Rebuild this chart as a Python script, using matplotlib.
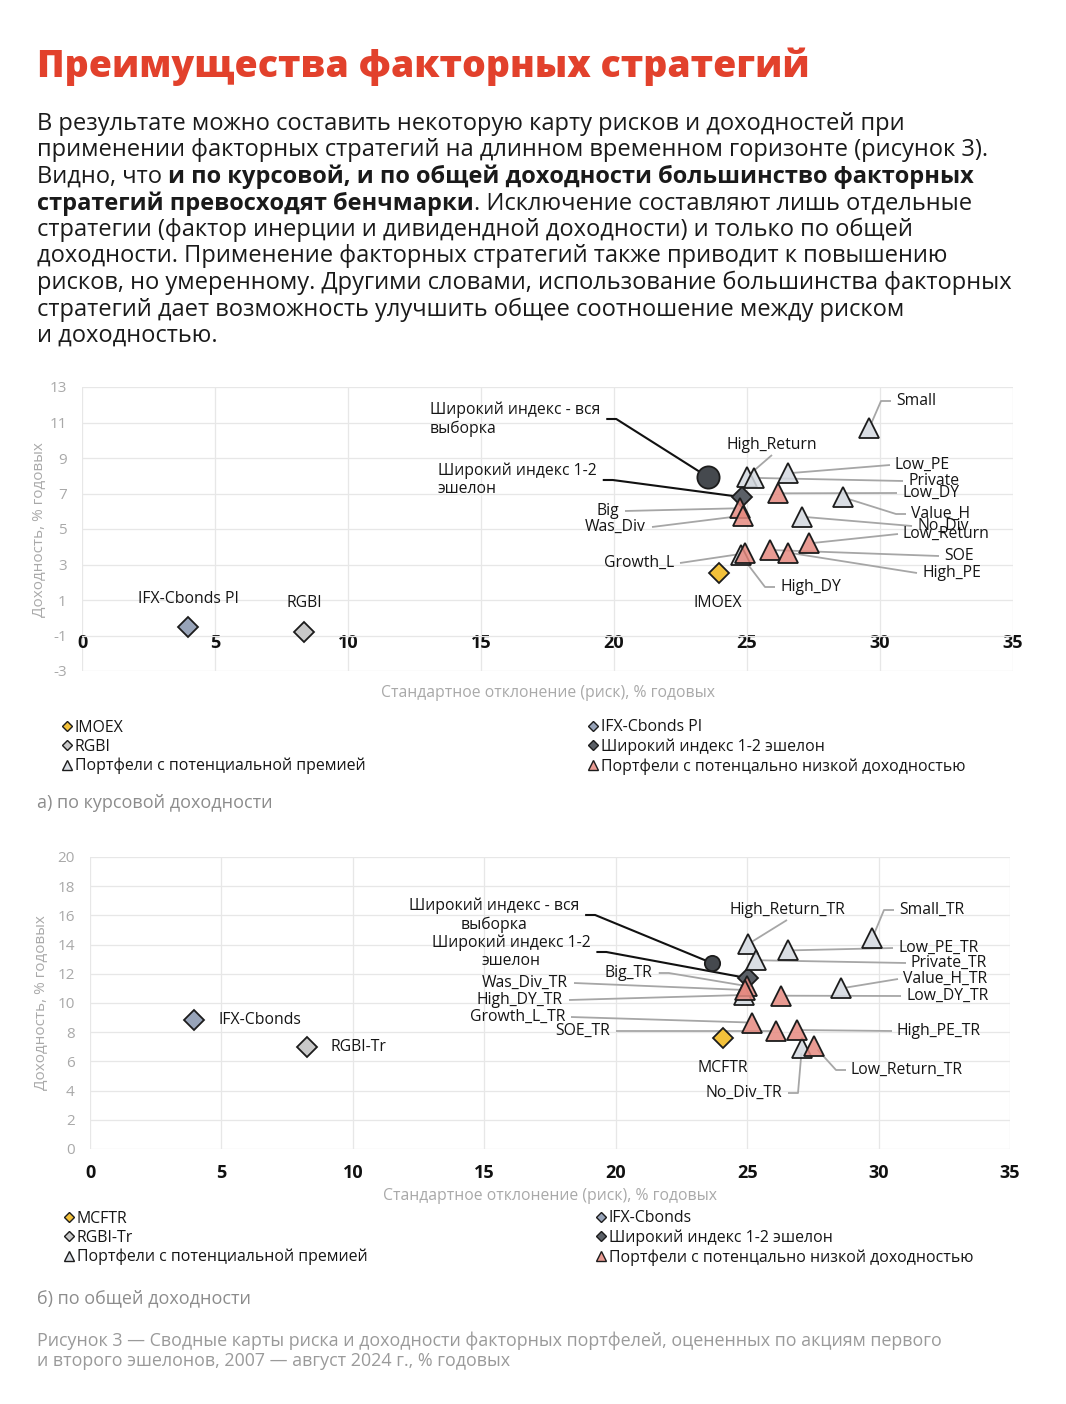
import matplotlib
matplotlib.use('Agg')
import matplotlib.pyplot as plt
from matplotlib.lines import Line2D

W, H = 1066, 1404
plt.rcParams['font.family'] = ['Open Sans', 'DejaVu Sans']
plt.rcParams['axes.unicode_minus'] = False

# ---------------- data: chart a (price return) ----------------
prem_a_names = ['Small', 'High_Return', 'Private', 'Low_PE', 'Value_H', 'No_Div', 'High_DY']
prem_a_x = [29.59, 25.00, 25.27, 26.55, 28.60, 27.08, 24.76]
prem_a_y = [10.67, 7.95, 7.88, 8.14, 6.79, 5.69, 3.54]
low_a_names = ['Low_DY', 'Big', 'Was_Div', 'Growth_L', 'Low_Return', 'SOE', 'High_PE']
low_a_x = [26.15, 24.74, 24.84, 24.92, 27.34, 25.86, 26.55]
low_a_y = [7.01, 6.17, 5.75, 3.63, 4.19, 3.82, 3.67]
bench_a_names = ['IMOEX', 'IFX-Cbonds PI', 'RGBI', 'Широкий индекс 1-2 эшелон', 'Широкий индекс - вся выборка']
bench_a_x = [23.93, 3.98, 8.35, 24.83, 23.55]
bench_a_y = [2.50, -0.52, -0.80, 6.79, 7.91]

# ---------------- data: chart b (total return) ----------------
prem_b_names = ['Small_TR', 'High_Return_TR', 'Private_TR', 'Low_PE_TR', 'Value_H_TR', 'No_Div_TR', 'High_DY_TR']
prem_b_x = [29.76, 25.05, 25.34, 26.55, 28.57, 27.08, 24.88]
prem_b_y = [14.43, 14.05, 12.93, 13.60, 11.00, 6.90, 10.55]
low_b_names = ['Low_DY_TR', 'Big_TR', 'Was_Div_TR', 'Growth_L_TR', 'SOE_TR', 'High_PE_TR', 'Low_Return_TR']
low_b_x = [26.27, 24.98, 24.91, 25.17, 26.10, 26.88, 27.55]
low_b_y = [10.50, 11.16, 10.89, 8.66, 8.08, 8.15, 7.06]
bench_b_names = ['MCFTR', 'IFX-Cbonds', 'RGBI-Tr', 'Широкий индекс 1-2 эшелон', 'Широкий индекс - вся выборка']
bench_b_x = [24.09, 3.96, 8.25, 25.02, 23.68]
bench_b_y = [7.58, 8.84, 6.99, 11.70, 12.72]

x_ticks = [0, 5, 10, 15, 20, 25, 30, 35]
y_ticks_a = [-3, -1, 1, 3, 5, 7, 9, 11, 13]
y_ticks_b = [0, 2, 4, 6, 8, 10, 12, 14, 16, 18, 20]

legend_a = ['IMOEX', 'RGBI', 'Портфели с потенциальной премией',
            'IFX-Cbonds PI', 'Широкий индекс 1-2 эшелон', 'Портфели с потенцально низкой доходностью']
legend_b = ['MCFTR', 'RGBI-Tr', 'Портфели с потенциальной премией',
            'IFX-Cbonds', 'Широкий индекс 1-2 эшелон', 'Портфели с потенцально низкой доходностью']

# label layout: name -> (text, px_x, px_y, ha, leader colour, side the leader leaves from, stub?)
lab_a = {
    'Широкий индекс - вся выборка': ('Широкий индекс - вся\nвыборка', 430, 419, 'left', 'black', 'R', True),
    'Широкий индекс 1-2 эшелон': ('Широкий индекс 1-2\nэшелон', 438, 480, 'left', 'black', 'R', True),
    'High_Return': ('High_Return', 772, 445, 'center', 'gray', 'B', False),
    'Small': ('Small', 896, 401, 'left', 'gray', 'L', True),
    'Low_PE': ('Low_PE', 895, 465, 'left', 'gray', 'L', False),
    'Private': ('Private', 908, 481, 'left', 'gray', 'L', False),
    'Low_DY': ('Low_DY', 902, 493, 'left', 'gray', 'L', False),
    'Value_H': ('Value_H', 911, 514, 'left', 'gray', 'L', True),
    'No_Div': ('No_Div', 917, 526, 'left', 'gray', 'L', False),
    'Low_Return': ('Low_Return', 903, 534, 'left', 'gray', 'L', False),
    'SOE': ('SOE', 944, 556, 'left', 'gray', 'L', False),
    'High_PE': ('High_PE', 922, 573, 'left', 'gray', 'L', False),
    'High_DY': ('High_DY', 780, 587, 'left', 'gray', 'L', True),
    'Growth_L': ('Growth_L', 674, 563, 'right', 'gray', 'R', False),
    'Big': ('Big', 619, 511, 'right', 'gray', 'R', False),
    'Was_Div': ('Was_Div', 646, 527, 'right', 'gray', 'R', False),
    'IFX-Cbonds PI': ('IFX-Cbonds PI', 188, 599, 'center', None, None, False),
    'RGBI': ('RGBI', 304, 603, 'center', None, None, False),
    'IMOEX': ('IMOEX', 718, 603, 'center', None, None, False),
}
lab_b = {
    'Широкий индекс - вся выборка': ('Широкий индекс - вся\nвыборка', 494, 915, 'center', 'black', 'R', True),
    'Широкий индекс 1-2 эшелон': ('Широкий индекс 1-2\nэшелон', 511, 952, 'center', 'black', 'R', True),
    'Big_TR': ('Big_TR', 605, 973, 'left', 'gray', 'R', True),
    'Was_Div_TR': ('Was_Div_TR', 568, 983, 'right', 'gray', 'R', False),
    'High_DY_TR': ('High_DY_TR', 563, 1000, 'right', 'gray', 'R', False),
    'Growth_L_TR': ('Growth_L_TR', 565, 1017, 'right', 'gray', 'R', False),
    'SOE_TR': ('SOE_TR', 610, 1031, 'right', 'gray', 'R', False),
    'IFX-Cbonds': ('IFX-Cbonds', 218, 1020, 'left', None, None, False),
    'RGBI-Tr': ('RGBI-Tr', 330, 1047, 'left', None, None, False),
    'MCFTR': ('MCFTR', 723, 1068, 'center', None, None, False),
    'No_Div_TR': ('No_Div_TR', 782, 1093, 'right', 'gray', 'R', True),
    'Low_Return_TR': ('Low_Return_TR', 851, 1070, 'left', 'gray', 'L', True),
    'High_PE_TR': ('High_PE_TR', 897, 1031, 'left', 'gray', 'L', False),
    'Low_DY_TR': ('Low_DY_TR', 906, 996, 'left', 'gray', 'L', False),
    'Value_H_TR': ('Value_H_TR', 903, 979, 'left', 'gray', 'L', False),
    'Private_TR': ('Private_TR', 911, 963, 'left', 'gray', 'L', False),
    'Low_PE_TR': ('Low_PE_TR', 898, 948, 'left', 'gray', 'L', False),
    'Small_TR': ('Small_TR', 899, 910, 'left', 'gray', 'L', True),
    'High_Return_TR': ('High_Return_TR', 787, 910, 'center', 'gray', 'B', False),
}

# ---------------- styles ----------------
EDGE = '#1c1c1c'
C_PREM = (0.83, 0.85, 0.88, 0.85)
C_LOW = (0.90, 0.54, 0.50, 0.85)
C_YEL = '#f3c13a'
C_IFX = '#98a4b9'
C_RGBI = '#c9c9c9'
C_DARK = '#5b6067'
C_CIRC = '#45494e'
GRAYTXT = '#a9a9a9'
LBL = 11.3


def fx(px):
    return px / W


def fy(py):
    return 1 - py / H


fig = plt.figure(figsize=(W / 100, H / 100), dpi=100)
fig.patch.set_facecolor('white')
renderer = fig.canvas.get_renderer()


def draw_chart(ax, bench_x, bench_y, bench_names, prem_x, prem_y, prem_names,
               low_x, low_y, low_names, labels, ylim, yticks, circ_ms, xaxis_at=None, xpad=11):
    ax.set_xlim(0, 35)
    ax.set_ylim(*ylim)
    for s in ax.spines.values():
        s.set_visible(False)
    if xaxis_at is not None:
        ax.spines['bottom'].set_position(('data', xaxis_at))
    ax.set_xticks(x_ticks, labels=[str(v) for v in x_ticks], fontweight='bold')
    ax.set_yticks(yticks)
    ax.grid(True, color='#e7e7e7', lw=0.9)
    ax.set_axisbelow(True)
    ax.tick_params(length=0)
    ax.tick_params(axis='y', labelcolor=GRAYTXT, labelsize=11, pad=11)
    ax.tick_params(axis='x', labelcolor='#111111', labelsize=13, pad=xpad)

    styles = [('D', 10.5, C_YEL), ('D', 10.5, C_IFX), ('D', 10.5, C_RGBI),
              ('D', 10.5, C_DARK), ('o', circ_ms, C_CIRC)]
    for i, (m, ms, c) in enumerate(styles):
        ax.plot([bench_x[i]], [bench_y[i]], ls='none', marker=m, ms=ms, mfc=c,
                mec=EDGE, mew=1.3, zorder=5)
    ax.plot(prem_x, prem_y, ls='none', marker='^', ms=15, mfc=C_PREM, mec=EDGE,
            mew=1.3, zorder=6)
    ax.plot(low_x, low_y, ls='none', marker='^', ms=15, mfc=C_LOW, mec=EDGE,
            mew=1.3, zorder=7)

    allpts = {}
    for n, x, y in zip(bench_names, bench_x, bench_y):
        allpts[n] = (x, y)
    for n, x, y in zip(prem_names, prem_x, prem_y):
        allpts[n] = (x, y)
    for n, x, y in zip(low_names, low_x, low_y):
        allpts[n] = (x, y)

    inv = ax.transData.inverted()
    for name, (txt, px, py, ha, leader, side, stub) in labels.items():
        t = fig.text(fx(px), fy(py), txt, ha=ha, va='center', fontsize=LBL,
                     color='#151515', multialignment=ha, zorder=4)
        if leader is None:
            continue
        bb = t.get_window_extent(renderer)
        ymid = (bb.y0 + bb.y1) / 2
        if side == 'L':
            pts = [(bb.x0 - 5, ymid)]
            if stub:
                pts.append((bb.x0 - 15, ymid))
        elif side == 'R':
            pts = [(bb.x1 + 6, ymid)]
            if stub:
                pts.append((bb.x1 + 16, ymid))
        else:
            pts = [((bb.x0 + bb.x1) / 2, bb.y0 - 2)]
        # end point: the mark, shortened a little so it stops at the marker edge
        ex, ey = ax.transData.transform(allpts[name])
        lx, ly = pts[-1]
        dx, dy = ex - lx, ey - ly
        dd = (dx * dx + dy * dy) ** 0.5
        pts.append((ex - 5 * dx / dd, ey - 5 * dy / dd))
        dpts = inv.transform(pts)
        col = '#111111' if leader == 'black' else '#a6a6a6'
        ax.plot(dpts[:, 0], dpts[:, 1], color=col, lw=1.5 if leader == 'black' else 1.3,
                zorder=4, clip_on=False, solid_capstyle='butt')


# ---------------- chart a ----------------
ax1 = fig.add_axes([fx(82), fy(671), (1013 - 82) / W, (671 - 387) / H])
draw_chart(ax1, bench_a_x, bench_a_y, bench_a_names, prem_a_x, prem_a_y, prem_a_names,
           low_a_x, low_a_y, low_a_names, lab_a, (-3, 13), y_ticks_a, 16, xaxis_at=-1, xpad=-1)

# ---------------- chart b ----------------
ax2 = fig.add_axes([fx(90), fy(1149), (1010 - 90) / W, (1149 - 857) / H])
draw_chart(ax2, bench_b_x, bench_b_y, bench_b_names, prem_b_x, prem_b_y, prem_b_names,
           low_b_x, low_b_y, low_b_names, lab_b, (0, 20), y_ticks_b, 11, xpad=11)

# axis titles
fig.text(fx(548), fy(693), 'Стандартное отклонение (риск), % годовых', ha='center', va='center',
         fontsize=11.3, color=GRAYTXT)
fig.text(fx(550), fy(1196), 'Стандартное отклонение (риск), % годовых', ha='center', va='center',
         fontsize=11.3, color=GRAYTXT)
fig.text(fx(40), fy(530), 'Доходность, % годовых', ha='center', va='center', rotation=90,
         fontsize=11, color=GRAYTXT)
fig.text(fx(42), fy(1003), 'Доходность, % годовых', ha='center', va='center', rotation=90,
         fontsize=11, color=GRAYTXT)


# ---------------- legends ----------------
def legend_handles():
    return [Line2D([], [], ls='none', marker='D', ms=5, mfc=C_YEL, mec=EDGE, mew=1.0),
            Line2D([], [], ls='none', marker='D', ms=5, mfc=C_RGBI, mec=EDGE, mew=1.0),
            Line2D([], [], ls='none', marker='^', ms=7, mfc=C_PREM, mec=EDGE, mew=1.0),
            Line2D([], [], ls='none', marker='D', ms=5, mfc=C_IFX, mec=EDGE, mew=1.0),
            Line2D([], [], ls='none', marker='D', ms=5, mfc=C_DARK, mec=EDGE, mew=1.0),
            Line2D([], [], ls='none', marker='^', ms=7, mfc=C_LOW, mec=EDGE, mew=1.0)]


def add_legend(labels, x_left, x_right, y_mid):
    h = legend_handles()
    for hs, ls, xx in ((h[:3], labels[:3], x_left), (h[3:], labels[3:], x_right)):
        fig.legend(hs, ls, loc='center left', bbox_to_anchor=(fx(xx), fy(y_mid)),
                   frameon=False, fontsize=11.4, handlelength=0.6, handletextpad=0.2,
                   labelspacing=0.2, borderpad=0, borderaxespad=0, labelcolor='#151515')


add_legend(legend_a, 62, 588, 747)
add_legend(legend_b, 64, 596, 1238)

fig.text(fx(37), fy(803), 'а) по курсовой доходности', ha='left', va='center', fontsize=13,
         color='#8c8c8c')
fig.text(fx(37), fy(1298), 'б) по общей доходности', ha='left', va='center', fontsize=13,
         color='#8c8c8c')
fig.text(fx(37), fy(1341), 'Рисунок 3 — Сводные карты риска и доходности факторных портфелей, '
         'оцененных по акциям первого', ha='left', va='center', fontsize=12.9, color='#9a9a9a')
fig.text(fx(37), fy(1361), 'и второго эшелонов, 2007 — август 2024 г., % годовых', ha='left',
         va='center', fontsize=12.9, color='#9a9a9a')

# ---------------- title & body text ----------------
t = fig.text(fx(37), fy(67), 'Преимущества факторных стратегий', ha='left', va='center',
             fontsize=30, fontweight='extra bold', color='#e2412c')
w = t.get_window_extent(renderer).width
t.set_fontsize(30 * (808 - 37) / w)

probe = fig.text(0, 0, 'применении факторных стратегий на длинном временном горизонте (рисунок 3).',
                 fontsize=16)
pw = probe.get_window_extent(renderer).width
probe.remove()
BODY = 16 * (990 - 37) / pw


def width_of(s, weight):
    tt = fig.text(0, 0, s, fontsize=BODY, fontweight=weight)
    ww = tt.get_window_extent(renderer).width
    tt.remove()
    return ww


space_w = width_of('а а', 'normal') - width_of('аа', 'normal')

body_lines = [
    [('В результате можно составить некоторую карту рисков и доходностей при', 'normal')],
    [('применении факторных стратегий на длинном временном горизонте (рисунок 3).', 'normal')],
    [('Видно, что', 'normal'), (' ', 'space'),
     ('и по курсовой, и по общей доходности большинство факторных', 'bold')],
    [('стратегий превосходят бенчмарки', 'bold'), ('. Исключение составляют лишь отдельные', 'normal')],
    [('стратегии (фактор инерции и дивидендной доходности) и только по общей', 'normal')],
    [('доходности. Применение факторных стратегий также приводит к повышению', 'normal')],
    [('рисков, но умеренному. Другими словами, использование большинства факторных', 'normal')],
    [('стратегий дает возможность улучшить общее соотношение между риском', 'normal')],
    [('и доходностью.', 'normal')],
]
y0 = 124
for i, runs in enumerate(body_lines):
    xpos = 37.0
    yy = y0 + i * 26.5
    for s, wgt in runs:
        if wgt == 'space':
            xpos += space_w
            continue
        tt = fig.text(fx(xpos), fy(yy), s, ha='left', va='center', fontsize=BODY,
                      fontweight=wgt, color='#1a1a1a')
        xpos += tt.get_window_extent(renderer).width

fig.savefig('out.png', dpi=100, facecolor='white')
